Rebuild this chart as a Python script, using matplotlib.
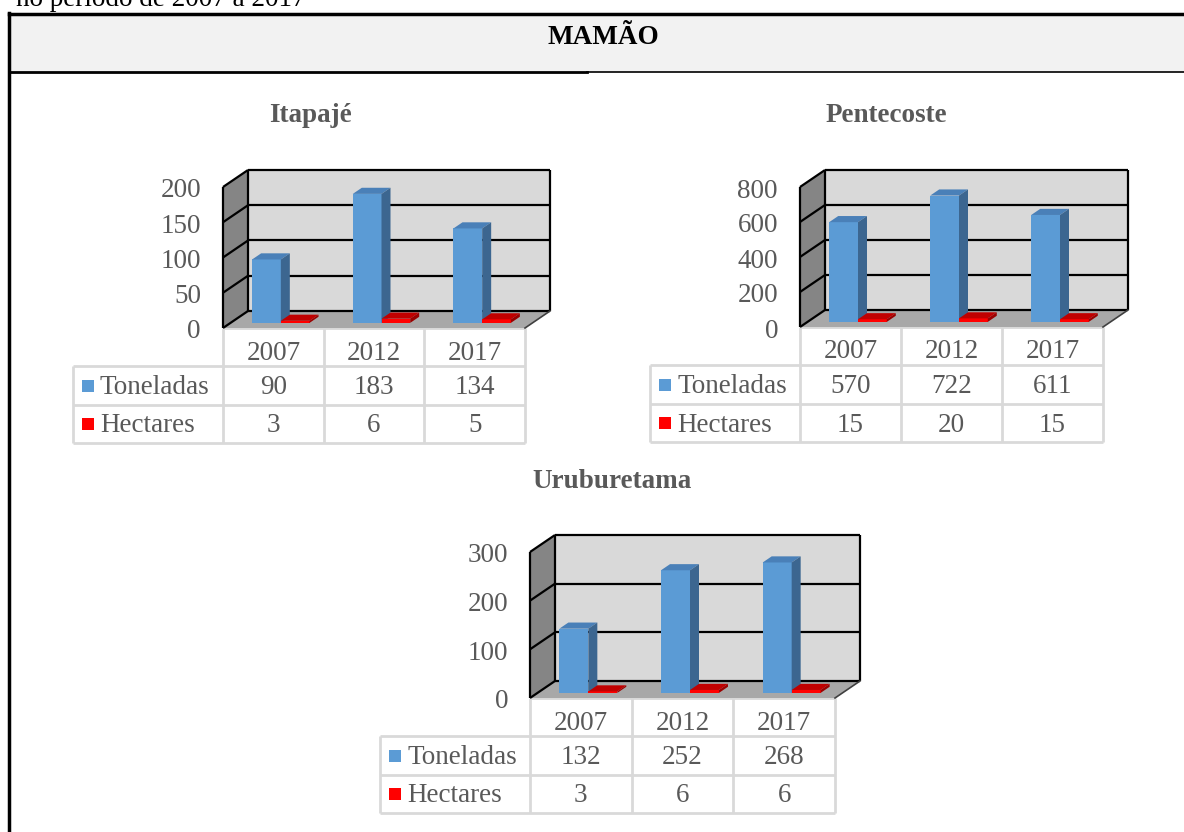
import matplotlib.pyplot as plt
from matplotlib.patches import Polygon, Rectangle
from matplotlib.transforms import offset_copy

plt.rcParams['font.family'] = ['Liberation Serif', 'DejaVu Serif']

anos = ["2007", "2012", "2017"]
series = ["Toneladas", "Hectares"]

itapaje_ton = [90, 183, 134]
itapaje_ha = [3, 6, 5]
pentecoste_ton = [570, 722, 611]
pentecoste_ha = [15, 20, 15]
uruburetama_ton = [132, 252, 268]
uruburetama_ha = [3, 6, 6]

W, H = 1184, 832
GRAY_TXT = '#595959'
GRID_TBL = '#D9D9D9'
FS = 19.5

# depth of the fake 3d box in pixels, bar placement inside each category
DEPTH_X, DEPTH_Y = 25, 17
BAR_GAP = 0.215
BAR_W = 0.285
BAR_Z0, BAR_Z1 = 0.3, 0.66
ROW_OFFSETS = [38, 77, 115]

COLORS = {
    "Toneladas": ('#5B9BD5', '#4A80B8', '#3C6690'),
    "Hectares": ('#FF0000', '#C00000', '#9A0000'),
}

fig = plt.figure(figsize=(W / 100, H / 100), dpi=100)
page = fig.add_axes([0, 0, 1, 1])
page.set_xlim(0, W)
page.set_ylim(H, 0)
page.axis('off')

# document frame
page.text(16, 6, "no período de 2007 a 2017", fontsize=FS, color='black',
          ha='left', va='baseline')
page.add_patch(Rectangle((9, 14), W, 58, facecolor='#F2F2F2', edgecolor='none'))
page.plot([9, W], [14, 14], color='black', lw=2.5)
page.plot([9, 9], [13, H], color='black', lw=2.5)
page.plot([9, 587], [72, 72], color='black', lw=2)
page.plot([587, W], [71.5, 71.5], color='black', lw=1.2)
page.text(603, 38, "MAMÃO", fontsize=FS, fontweight='bold', color='black',
          ha='center', va='center')


def poly(ax, pts, color, edge='none', lw=0, z=1):
    ax.add_patch(Polygon(pts, closed=True, facecolor=color, edgecolor=edge,
                         lw=lw, clip_on=False, zorder=z))


def draw_chart(title, ton, ha, ymax, step, box, legend_left, title_xy):
    left, right, top, bottom = box
    ax = fig.add_axes([left / W, 1 - bottom / H, (right - left) / W, (bottom - top) / H])
    ax.set_xlim(0, 3)
    ax.set_ylim(0, ymax)
    ax.axis('off')

    dx = DEPTH_X / ((right - left) / 3)
    dy = DEPTH_Y / ((bottom - top) / ymax)

    # walls and floor
    poly(ax, [(dx, dy), (3 + dx, dy), (3 + dx, ymax + dy), (dx, ymax + dy)], '#D9D9D9', z=1)
    poly(ax, [(0, 0), (dx, dy), (dx, ymax + dy), (0, ymax)], '#858585', z=1)
    poly(ax, [(0, 0), (3, 0), (3 + dx, dy), (dx, dy)], '#A8A8A8', z=1)

    kw = dict(color='black', lw=1.6, clip_on=False, zorder=2, solid_capstyle='butt')
    ticks = list(range(0, ymax + 1, step))
    for v in ticks:
        ax.plot([dx, 3 + dx], [v + dy, v + dy], **kw)
        ax.plot([0, dx], [v, v + dy], **kw)
    ax.plot([dx, dx], [dy, ymax + dy], **kw)
    ax.plot([3 + dx, 3 + dx], [dy, ymax + dy], **kw)
    ax.plot([0, 0], [0, ymax], **kw)
    ax.plot([3, 3 + dx], [0, dy], color='#404040', lw=1.2, clip_on=False, zorder=2)

    lab_tr = offset_copy(ax.transData, fig=fig, x=-22, y=-4, units='dots')
    for v in ticks:
        ax.text(0, v, str(v), transform=lab_tr, ha='right', va='center',
                fontsize=FS, color=GRAY_TXT)

    # bars
    zx0, zy0 = BAR_Z0 * dx, BAR_Z0 * dy
    bdx, bdy = (BAR_Z1 - BAR_Z0) * dx, (BAR_Z1 - BAR_Z0) * dy
    for i in range(3):
        for k, (name, vals) in enumerate(zip(series, [ton, ha])):
            front, topc, side = COLORS[name]
            x0 = i + BAR_GAP + k * BAR_W + zx0
            x1 = x0 + BAR_W
            y0 = zy0
            y1 = zy0 + vals[i]
            poly(ax, [(x0, y0), (x1, y0), (x1, y1), (x0, y1)], front, z=3)
            poly(ax, [(x0, y1), (x1, y1), (x1 + bdx, y1 + bdy), (x0 + bdx, y1 + bdy)], topc, z=3)
            poly(ax, [(x1, y0), (x1 + bdx, y0 + bdy), (x1 + bdx, y1 + bdy), (x1, y1)], side, z=3)

    # title
    page.text(title_xy[0], title_xy[1], title, fontsize=FS, fontweight='bold',
              color=GRAY_TXT, ha='center', va='center')

    # data table under the chart
    cols = [left + i * (right - left) / 3 for i in range(4)]
    rows = [bottom] + [bottom + r for r in ROW_OFFSETS]
    tk = dict(color=GRID_TBL, lw=2, solid_capstyle='butt')
    page.plot([cols[0], cols[3]], [rows[0], rows[0]], **tk)
    for r in rows[1:]:
        page.plot([legend_left, cols[3]], [r, r], **tk)
    for c in cols:
        page.plot([c, c], [rows[0], rows[3]], **tk)
    page.plot([legend_left, legend_left], [rows[1], rows[3]], **tk)

    for i, ano in enumerate(anos):
        xc = (cols[i] + cols[i + 1]) / 2
        page.text(xc, (rows[0] + rows[1]) / 2 + 6, ano, fontsize=FS, color=GRAY_TXT,
                  ha='center', va='center')
    for k, (name, vals) in enumerate(zip(series, [ton, ha])):
        yc = (rows[k + 1] + rows[k + 2]) / 2
        page.add_patch(Rectangle((legend_left + 9, yc - 6), 12, 12,
                                 facecolor=COLORS[name][0], edgecolor='none'))
        page.text(legend_left + 27, yc + 2, name, fontsize=FS, color=GRAY_TXT,
                  ha='left', va='center')
        for i, v in enumerate(vals):
            xc = (cols[i] + cols[i + 1]) / 2
            page.text(xc, yc + 2, str(v), fontsize=FS, color=GRAY_TXT,
                      ha='center', va='center')


draw_chart("Itapajé", itapaje_ton, itapaje_ha, 200, 50,
           (223, 525, 187, 328), 73, (310, 115))
draw_chart("Pentecoste", pentecoste_ton, pentecoste_ha, 800, 200,
           (800, 1103, 187, 327), 650, (886, 115))
draw_chart("Uruburetama", uruburetama_ton, uruburetama_ha, 300, 100,
           (530, 835, 552, 698), 380, (612, 482))

fig.savefig('out.png', dpi=100)
